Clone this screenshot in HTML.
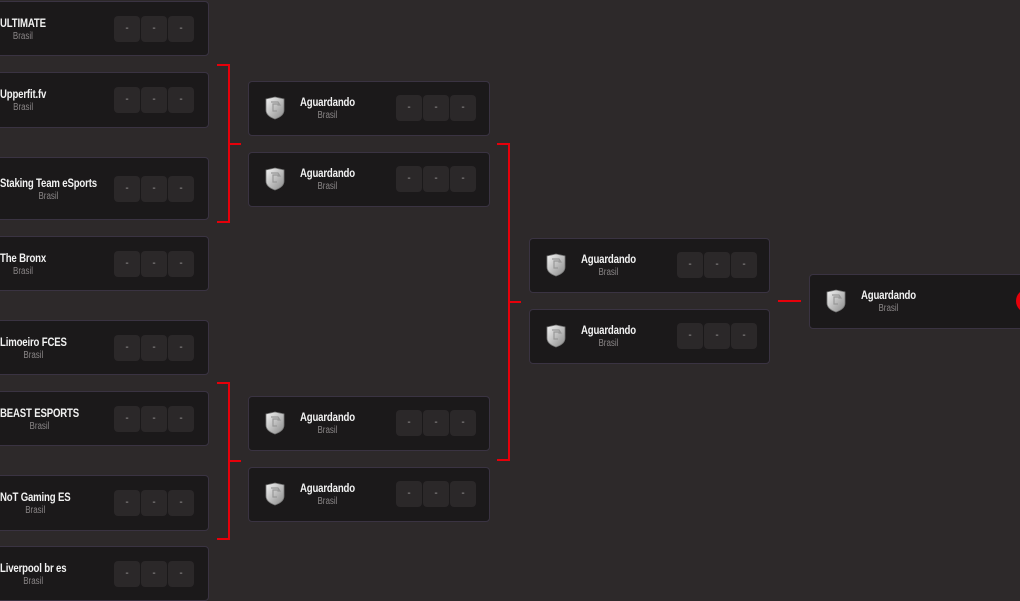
<!DOCTYPE html>
<html><head><meta charset="utf-8"><style>
html,body{margin:0;padding:0;width:1020px;height:600px;overflow:hidden;background:#2d292a;font-family:"Liberation Sans",sans-serif;}
.c{position:absolute;background:#1b191a;border:1px solid #3a3342;border-radius:4px;box-sizing:border-box;overflow:visible}
.t{position:absolute;text-align:center;white-space:nowrap;transform:scaleX(0.8);transform-origin:0 0}
.n{color:#f2f2f2;font-weight:bold;font-size:12px;line-height:14px;letter-spacing:-0.2px}
.b{color:#8a8687;font-size:10px;line-height:12px;margin-top:1px}
.s{position:absolute;width:26px;height:26px;background:#2b2829;border-radius:4px;color:#a09c9d;font-size:10px;line-height:26px;text-align:center}
.r{position:absolute;background:#e5000a}
.sh{position:absolute;width:22px;height:24px}
</style></head><body>
<div id="root"></div>
<script>
var h='';
function sc(x,y){return '<div class="s" style="left:'+x+'px;top:'+y+'px">-</div><div class="s" style="left:'+(x+27)+'px;top:'+y+'px">-</div><div class="s" style="left:'+(x+54)+'px;top:'+y+'px">-</div>';}
var c1=[["ULTIMATE",1,56],["Upperfit.fv",72,128],["Staking Team eSports",157,220],["The Bronx",236,291],["Limoeiro FCES",320,375],["BEAST ESPORTS",391,446],["NoT Gaming ES",475,531],["Liverpool br es",546,601]];
c1.forEach(function(a){var y=a[1],hh=a[2]-a[1],m=y+hh/2;
h+='<div class="c" style="left:-10px;top:'+y+'px;width:219px;height:'+hh+'px"></div>';
h+='<div class="t" style="left:0;top:'+(m-13)+'px"><div class="n">'+a[0]+'</div><div class="b">Brasil</div></div>';
h+=sc(114,m-13);});
var shield='<svg class="sh" viewBox="0 0 22 24"><defs><linearGradient id="g" x1="0" y1="0" x2="1" y2="1"><stop offset="0" stop-color="#f4f4f4"/><stop offset="1" stop-color="#8a8a8a"/></linearGradient></defs><path d="M2 3 L11 1 L20 3 L20 14 Q20 20 11 23 Q2 20 2 14 Z" fill="url(#g)" stroke="#777" stroke-width="0.8"/><path d="M7 6 L14 6 L16 9 L14 9 L14 8 L9 8 L9 15 L13 15" fill="none" stroke="#999" stroke-width="1.2"/></svg>';
function ag(x,y,w){var m=y+27;
h+='<div class="c" style="left:'+x+'px;top:'+y+'px;width:'+w+'px;height:55px"></div>';
h+='<div style="position:absolute;left:'+(x+16)+'px;top:'+(m-12)+'px">'+shield+'</div>';
h+='<div class="t" style="left:'+(x+52)+'px;top:'+(m-13)+'px"><div class="n">Aguardando</div><div class="b">Brasil</div></div>';
if(w<300)h+=sc(x+148,m-13);}
ag(248,81,242);ag(248,152,242);ag(248,396,242);ag(248,467,242);
ag(529,238,241);ag(529,309,241);ag(809,274,300);
h+='<div style="position:absolute;left:1016px;top:289px;width:24px;height:24px;border-radius:50%;background:#e5000a"></div>';
function br(x0,y1,y2,x1){var vx=x0+11;
h+='<div class="r" style="left:'+x0+'px;top:'+y1+'px;width:12px;height:2px"></div>';
h+='<div class="r" style="left:'+x0+'px;top:'+y2+'px;width:12px;height:2px"></div>';
h+='<div class="r" style="left:'+vx+'px;top:'+y1+'px;width:2px;height:'+(y2-y1+2)+'px"></div>';
h+='<div class="r" style="left:'+vx+'px;top:'+((y1+y2)/2)+'px;width:'+(x1-vx)+'px;height:2px"></div>';}
br(217,64,221,241);br(217,382,538,241);br(497,143,459,521);
h+='<div class="r" style="left:778px;top:300px;width:23px;height:2px"></div>';
document.getElementById('root').innerHTML=h;
</script>
</body></html>
